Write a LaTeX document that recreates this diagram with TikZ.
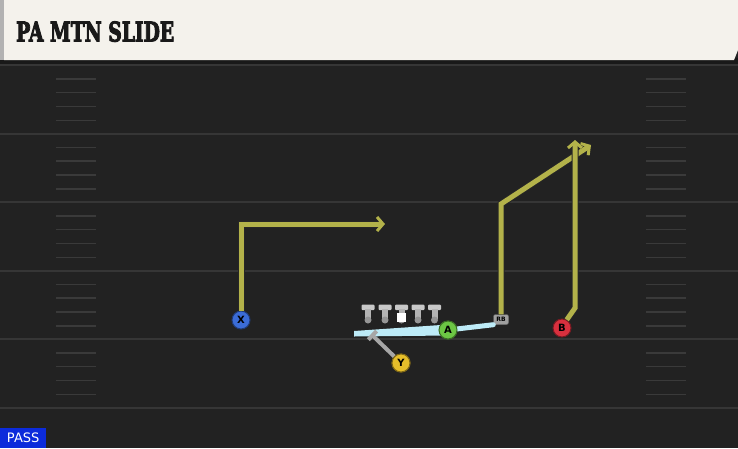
\documentclass[tikz,border=0pt]{standalone}
\usepackage{fontspec}
\setsansfont{DejaVu Sans}
\newfontfamily\titlefont{DejaVu Serif}[BoldFeatures={FakeBold=4}]
\usetikzlibrary{arrows.meta,calc}
\definecolor{turf}{HTML}{222222}
\definecolor{yardline}{HTML}{363636}
\definecolor{hashline}{HTML}{3A3A3A}
\definecolor{cream}{HTML}{F4F2EC}
\definecolor{routecol}{HTML}{B3B24A}
\definecolor{fakeblue}{HTML}{BDEBF7}
\definecolor{passblue}{HTML}{0C2BDB}
\definecolor{xblue}{HTML}{3B6CD6}
\definecolor{agreen}{HTML}{6CC644}
\definecolor{bred}{HTML}{D8303E}
\definecolor{yyellow}{HTML}{E6BE2A}
\definecolor{linegrey}{HTML}{C8C8C8}
% one offensive lineman: bar, stem and foot at x = #1
\newcommand{\lineman}[1]{
  \fill[linegrey, rounded corners=1pt] (#1-6.5,304.5) rectangle (#1+6.5,310);
  \fill[linegrey!90!black] (#1-3,309) rectangle (#1+3,319);
  \fill[linegrey!75!black] (#1,320) circle (3.5);
}
\tikzset{
  player/.style={circle, minimum size=18pt, inner sep=0pt, line width=1pt,
    draw=#1!55!black, fill=#1, font=\sffamily\bfseries, text=black},
  route/.style={draw=routecol, line width=5pt, line join=miter,
    preaction={draw=black!85, line width=7pt},
    -{Straight Barb[length=6pt, width=14pt, line width=3pt]}},
  passblock/.style={draw=gray!70, line width=4pt, -{Bar[width=12pt]}},
  fake/.style={draw=fakeblue, line width=5pt, line cap=round},
}
\begin{document}
\begin{tikzpicture}[x=1pt, y=-1pt]
  \useasboundingbox (0,0) rectangle (738,448);
  \fill[turf] (0,0) rectangle (738,448);

  % yard lines and hash marks
  \foreach \yy in {65,133.5,202,270.5,339,407.5}
    \draw[yardline, line width=2pt] (0,\yy) -- (738,\yy);
  \foreach \yy in {65,133.5,202,270.5,339} {
    \foreach \dy in {14,27.5,41.5,55.5} {
      \draw[hashline, line width=1.5pt] (56,\yy+\dy) -- (96,\yy+\dy);
      \draw[hashline, line width=1.5pt] (646,\yy+\dy) -- (686,\yy+\dy);
    }
  }

  % title band
  \fill[black!90] (0,58) rectangle (738,64);
  \fill[gray!60] (0,0) rectangle (4,60);
  \fill[cream] (4,0) -- (738,0) -- (738,50) -- (734,60) -- (4,60) -- cycle;
  \node[anchor=south west, inner sep=0pt, text=black!90] (title) at (16,42)
    {\resizebox{158pt}{20pt}{\titlefont\bfseries PA MTN SLIDE}};

  % play-action fake
  \node[player=agreen] (A) at (448,330) {A};
  \node[draw=black!60, fill=gray!75, rounded corners=2pt, minimum width=15pt,
    minimum height=10pt, inner sep=0pt, font=\sffamily\bfseries\fontsize{6}{6}\selectfont]
    (RB) at (501,319.5) {RB};
  \coordinate (fakeleft) at (354,333.5);
  \fill[fakeblue] (fakeleft) -- ++(0,-2.5) -- ($(A)+(0,-5.5)$) -- ($(A)+(0,5.5)$) -- (354,336.5) -- cycle;
  \draw[fake] (A) -- (RB.south west);
  \node[player=agreen] at (A) {A};

  % line
  \foreach \lx in {368,385,401.5,418,434.5}
    \lineman{\lx}
  \fill[white] (397,312.5) rectangle (406,322);

  % X curl-out
  \node[player=xblue] (X) at (241,320) {X};
  \coordinate (xend) at (385,224);
  \draw[route] (X.north) |- (xend);

  % RB wheel
  \coordinate (rbbreak) at (501,204);
  \coordinate (rbend) at (591,145);
  \draw[route] (RB.north) -- (rbbreak) -- (rbend);

  % B go
  \node[player=bred] (B) at (562,328) {B};
  \coordinate (bstem) at (575,308);
  \coordinate (bend) at (575,140);
  \draw[route] (B.60) -- (bstem) -- (bend);

  % Y pass block
  \node[player=yyellow] (Y) at (401,363) {Y};
  \coordinate (yblock) at (371,334);
  \draw[passblock] (Y) -- (yblock);
  \node[player=yyellow] at (Y) {Y};

  % play type tag
  \node[fill=passblue, text=white, anchor=south west, minimum width=46pt,
    minimum height=20pt, inner sep=0pt, font=\sffamily\fontsize{13}{13}\selectfont]
    (tag) at (0,448) {PASS};
\end{tikzpicture}
\end{document}
